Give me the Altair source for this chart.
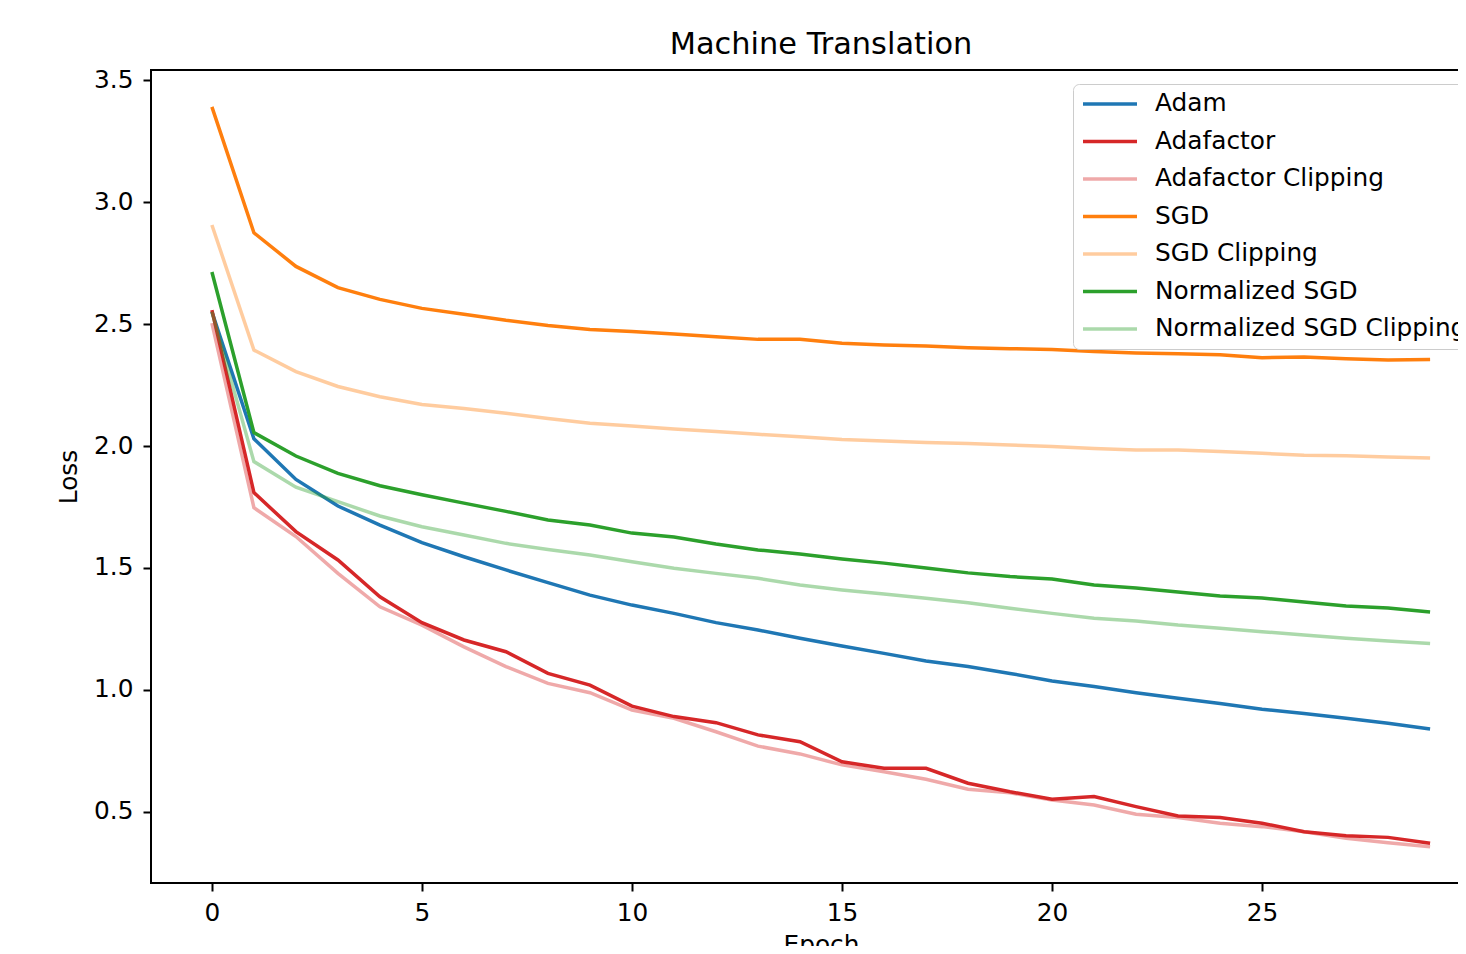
import altair as alt
import pandas as pd

epochs = list(range(30))

series_names = ["Adam", "Adafactor", "Adafactor Clipping", "SGD", "SGD Clipping",
                "Normalized SGD", "Normalized SGD Clipping"]

series_colors = ["#1f77b4", "#d62728", "rgba(214,39,40,0.4)", "#ff7f0e",
                 "rgba(255,127,14,0.4)", "#2ca02c", "rgba(44,160,44,0.4)"]

adam = [2.55, 2.03, 1.863, 1.754, 1.676, 1.604, 1.546, 1.492, 1.440, 1.389,
        1.348, 1.314, 1.276, 1.246, 1.212, 1.180, 1.150, 1.119, 1.096, 1.068,
        1.037, 1.014, 0.989, 0.966, 0.945, 0.921, 0.904, 0.884, 0.864, 0.840]

adafactor = [2.557, 1.809, 1.649, 1.533, 1.382, 1.276, 1.205, 1.157, 1.068, 1.020,
             0.934, 0.891, 0.866, 0.816, 0.788, 0.706, 0.679, 0.679, 0.618, 0.583,
             0.552, 0.563, 0.522, 0.484, 0.477, 0.454, 0.419, 0.403, 0.396, 0.372]

adafactor_clip = [2.504, 1.747, 1.629, 1.478, 1.341, 1.266, 1.177, 1.096, 1.027, 0.989,
                  0.918, 0.884, 0.829, 0.770, 0.738, 0.693, 0.665, 0.634, 0.593, 0.579,
                  0.549, 0.529, 0.491, 0.477, 0.454, 0.440, 0.419, 0.392, 0.374, 0.358]

sgd = [3.39, 2.874, 2.736, 2.649, 2.601, 2.564, 2.540, 2.515, 2.494, 2.477,
       2.469, 2.459, 2.448, 2.437, 2.437, 2.421, 2.414, 2.410, 2.403, 2.399,
       2.395, 2.387, 2.381, 2.378, 2.374, 2.362, 2.365, 2.358, 2.352, 2.355]

sgd_clip = [2.906, 2.393, 2.305, 2.244, 2.202, 2.170, 2.154, 2.134, 2.113, 2.093,
            2.082, 2.070, 2.059, 2.048, 2.038, 2.027, 2.020, 2.014, 2.010, 2.004,
            1.998, 1.990, 1.984, 1.984, 1.977, 1.970, 1.962, 1.960, 1.955, 1.951]

nsgd = [2.713, 2.055, 1.959, 1.888, 1.837, 1.800, 1.766, 1.732, 1.697, 1.676,
        1.643, 1.627, 1.598, 1.574, 1.557, 1.537, 1.520, 1.500, 1.480, 1.465,
        1.455, 1.430, 1.418, 1.402, 1.385, 1.377, 1.361, 1.344, 1.336, 1.320]

nsgd_clip = [2.55, 1.936, 1.831, 1.772, 1.713, 1.669, 1.635, 1.601, 1.576, 1.553,
             1.526, 1.499, 1.478, 1.458, 1.430, 1.410, 1.393, 1.376, 1.358, 1.335,
             1.314, 1.294, 1.283, 1.266, 1.253, 1.239, 1.225, 1.212, 1.201, 1.191]

x_ticks = [0, 5, 10, 15, 20, 25, 30]
y_ticks = [0.5, 1.0, 1.5, 2.0, 2.5, 3.0, 3.5]

all_values = [adam, adafactor, adafactor_clip, sgd, sgd_clip, nsgd, nsgd_clip]
rows = []
for name, vals in zip(series_names, all_values):
    for e, v in zip(epochs, vals):
        rows.append({"Epoch": e, "Loss": v, "Series": name})
df = pd.DataFrame(rows)

FONT = "DejaVu Sans"
FS = 24.8

chart = alt.Chart(df).mark_line(strokeWidth=3.5).encode(
    x=alt.X("Epoch:Q",
            scale=alt.Scale(domain=[-1.45, 30.45], nice=False, zero=False),
            axis=alt.Axis(values=x_ticks, title="Epoch", format="d")),
    y=alt.Y("Loss:Q",
            scale=alt.Scale(domain=[0.209, 3.541], nice=False, zero=False),
            axis=alt.Axis(values=y_ticks, title="Loss", format=".1f")),
    color=alt.Color("Series:N",
                    scale=alt.Scale(domain=series_names, range=series_colors),
                    sort=series_names,
                    legend=alt.Legend(
                        orient="none", legendX=922, legendY=14, title=None,
                        symbolType="stroke", symbolSize=2916, symbolStrokeWidth=3.5,
                        labelFontSize=FS, labelFont=FONT, labelColor="black",
                        labelOffset=16, clipHeight=24, rowPadding=12.5,
                        padding=8, strokeColor="#cccccc", fillColor="rgba(255,255,255,0.8)",
                        cornerRadius=6, labelLimit=600)),
    detail="Series:N",
).properties(
    width=1340,
    height=813,
    title=alt.TitleParams("Machine Translation", fontSize=30.4, font=FONT,
                          fontWeight="normal", color="black", offset=7),
    autosize=alt.AutoSizeParams(type="none"),
    padding={"left": 143, "top": 62, "right": -33, "bottom": 63},
).configure_view(
    stroke="black", strokeWidth=2
).configure_axis(
    grid=False, domain=False, tickColor="black", tickWidth=2, tickSize=8,
    labelFont=FONT, labelFontSize=FS, labelColor="black",
    titleFont=FONT, titleFontSize=FS, titleFontWeight="normal", titleColor="black",
).configure_axisY(
    labelPadding=10, titlePadding=12
).configure_axisX(
    labelPadding=9, titlePadding=8
)

chart.save("out.html", embed_options={"renderer": "svg", "actions": False})
